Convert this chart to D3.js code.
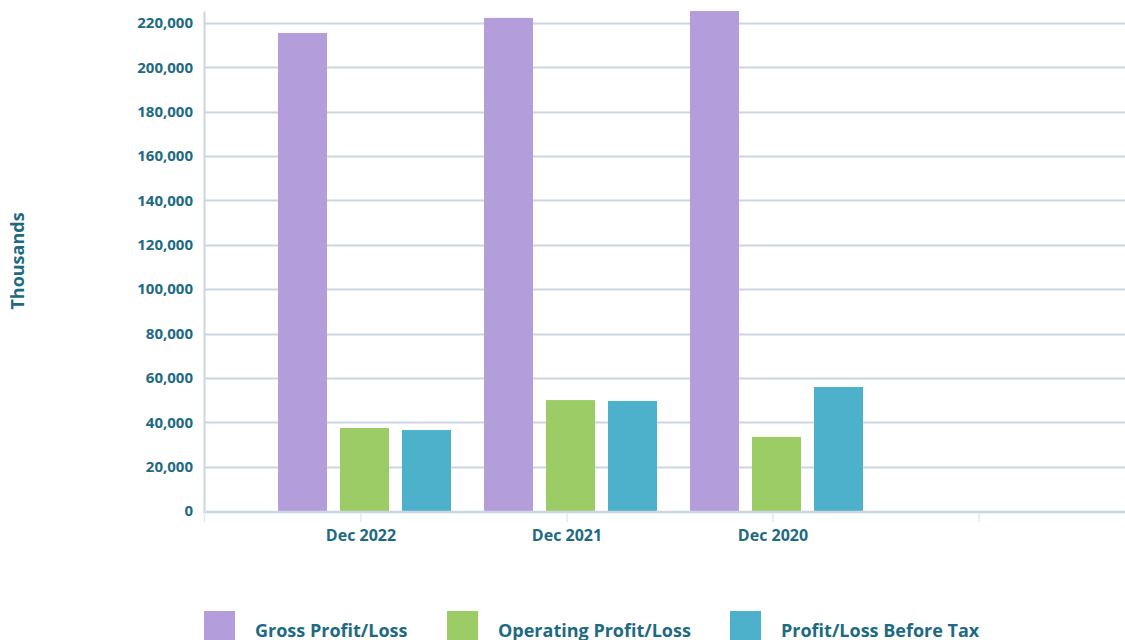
<!DOCTYPE html>
<html>
<head>
<meta charset="utf-8">
<script src="https://cdn.jsdelivr.net/npm/d3@7"></script>
<style>
  body { margin: 0; background: #fff; }
  svg { display: block; }
  svg text { font-family: "Open Sans", "Noto Sans", sans-serif; }
</style>
</head>
<body>
<svg id="chart" width="1125" height="640"></svg>
<script>
// chart data
const periods = ["Dec 2022", "Dec 2021", "Dec 2020", ""];
const seriesNames = ["Gross Profit/Loss", "Operating Profit/Loss", "Profit/Loss Before Tax"];
const grossProfit = [215500, 222300, 225400];
const operatingProfit = [37400, 50000, 33400];
const profitBeforeTax = [36500, 49600, 55900];
const yTicks = [0, 20000, 40000, 60000, 80000, 100000, 120000, 140000, 160000, 180000, 200000, 220000];
const colors = ["#b39edb", "#9ccc65", "#4db1cb"];

const textColor = "#1d6a82";
const gridColor = "#ccd6e0";

const svg = d3.select("#chart");

const plotLeft = 204, plotRight = 1125, plotTop = 11, plotBottom = 511;

const y = d3.scaleLinear()
    .domain([0, 225410])
    .range([plotBottom, plotTop]);

// one band per period, ticks at the band centres
const x = d3.scaleBand()
    .domain(periods)
    .range([258, 1082]);

const xInner = d3.scaleBand()
    .domain(seriesNames)
    .range([20, 193])
    .paddingInner(13 / 62);

// gridlines
svg.append("g")
    .selectAll("line")
    .data(yTicks.filter(d => d > 0))
    .join("line")
    .attr("x1", plotLeft)
    .attr("x2", plotRight)
    .attr("y1", d => Math.round(y(d)) + 0.5)
    .attr("y2", d => Math.round(y(d)) + 0.5)
    .attr("stroke", gridColor)
    .attr("stroke-width", 2);

// y axis
const yAxis = svg.append("g")
    .attr("transform", `translate(${plotLeft},0)`)
    .call(d3.axisLeft(y).tickValues(yTicks).tickSize(0).tickPadding(11).tickFormat(d3.format(",")));
yAxis.attr("font-family", null);
yAxis.select(".domain")
    .attr("stroke", gridColor)
    .attr("stroke-width", 2);
yAxis.selectAll("text")
    .attr("fill", textColor)
    .style("font-size", "15px")
    .style("font-weight", "700");

// bars
const rows = periods.slice(0, 3).map((p, i) => ({
    period: p,
    values: [grossProfit[i], operatingProfit[i], profitBeforeTax[i]]
}));

svg.append("defs").append("clipPath").attr("id", "plotclip")
    .append("rect")
    .attr("x", plotLeft).attr("y", plotTop)
    .attr("width", plotRight - plotLeft).attr("height", plotBottom - plotTop);

const groups = svg.append("g")
    .attr("clip-path", "url(#plotclip)")
    .selectAll("g")
    .data(rows)
    .join("g")
    .attr("transform", d => `translate(${x(d.period)},0)`);

groups.selectAll("rect")
    .data(d => d.values.map((v, k) => ({ name: seriesNames[k], value: v, k: k })))
    .join("rect")
    .attr("x", d => xInner(d.name))
    .attr("y", d => y(d.value))
    .attr("width", xInner.bandwidth())
    .attr("height", d => plotBottom - y(d.value))
    .attr("fill", d => colors[d.k]);

// x axis
const xAxis = svg.append("g")
    .attr("transform", `translate(0,${plotBottom})`)
    .call(d3.axisBottom(x).tickSize(11).tickPadding(8).tickSizeOuter(0));
xAxis.attr("font-family", null);
xAxis.select(".domain").remove();
xAxis.selectAll(".tick line")
    .attr("stroke", "#e6e9ee")
    .attr("stroke-width", 1.5);
xAxis.selectAll("text")
    .attr("fill", textColor)
    .style("font-size", "16px")
    .style("font-weight", "700");
// axis baseline and start tick
svg.append("line")
    .attr("x1", plotLeft - 1).attr("x2", plotRight)
    .attr("y1", plotBottom + 1).attr("y2", plotBottom + 1)
    .attr("stroke", gridColor)
    .attr("stroke-width", 2.5);
svg.append("line")
    .attr("x1", plotLeft + 0.5).attr("x2", plotLeft + 0.5)
    .attr("y1", plotBottom).attr("y2", plotBottom + 11)
    .attr("stroke", "#e6e9ee")
    .attr("stroke-width", 1.5);

// y axis title
svg.append("text")
    .attr("transform", `translate(24,261) rotate(-90)`)
    .attr("text-anchor", "middle")
    .attr("fill", textColor)
    .style("font-size", "18px")
    .style("font-weight", "700")
    .text("Thousands");

// legend
const legendX = [204, 447, 730];
const legend = svg.append("g")
    .selectAll("g")
    .data(seriesNames)
    .join("g")
    .attr("transform", (d, i) => `translate(${legendX[i]},611)`);
legend.append("rect")
    .attr("width", 31)
    .attr("height", 31)
    .attr("fill", (d, i) => colors[i]);
legend.append("text")
    .attr("x", 51)
    .attr("y", 26)
    .attr("fill", textColor)
    .style("font-size", "18px")
    .style("font-weight", "700")
    .text(d => d);
</script>
</body>
</html>
